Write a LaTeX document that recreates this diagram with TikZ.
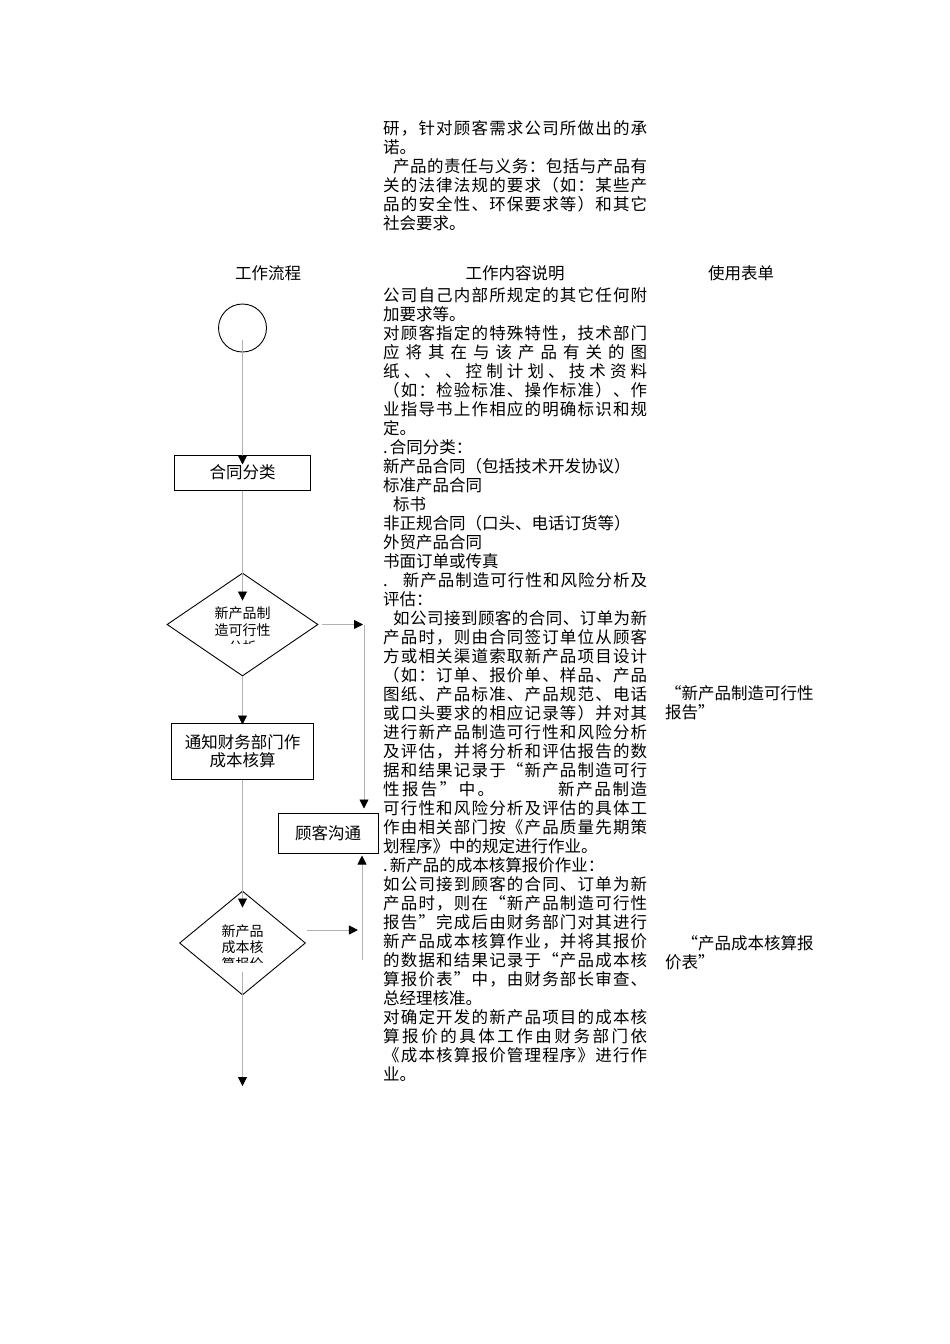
\documentclass[tikz,border=0pt]{standalone}
\usepackage{fontspec}
\setmainfont{Noto Sans CJK SC}
\usetikzlibrary{shapes.geometric,arrows.meta,calc}
\definecolor{lgray}{RGB}{178,178,178}
\newcommand\fs{\fontsize{16.5pt}{19pt}\selectfont}
\newcommand\fsd{\fontsize{14pt}{16.5pt}\selectfont}
\def\spr#1{\ifx#1\relax\else#1\hfil\expandafter\spr\fi}
\newcommand\jl[2][]{\hbox to 264pt{#1\spr#2\relax\unskip}}
\newcommand\lqm{\makebox[16.5pt][r]{“}}
\newcommand\rqm{\makebox[16.5pt][l]{”}}
\tikzset{
  flow/.style={draw=lgray, line width=0.8pt, -{Triangle[width=9pt,length=9pt,color=black]}},
  box/.style={draw=black, line width=1pt, fill=white, inner sep=0pt, font=\fs},
  dia/.style={diamond, draw=black, line width=0.9pt, fill=white, inner sep=0pt},
  txt/.style={anchor=west, inner sep=0pt, font=\fs, text height=14.5pt, text depth=2pt},
  hdr/.style={anchor=center, inner sep=0pt, font=\fs, text height=14.5pt, text depth=2pt},
  dtx/.style={anchor=center, inner sep=0pt, font=\fsd, text height=12.3pt, text depth=1.7pt},
}
\begin{document}
\begin{tikzpicture}[x=1pt,y=-1pt]
\useasboundingbox (0,0) rectangle (950,1344);
\fill[white] (0,0) rectangle (950,1344);

% ---------- flowchart shapes ----------
\node[circle,draw=black,line width=0.9pt,minimum size=48pt,inner sep=0pt] (c0) at (242.5,328) {};
\node[box,minimum width=136pt,minimum height=35pt] (b1) at (242.5,472.5) {合同分类};
\node[dia,minimum width=151pt,minimum height=103pt] (d1) at (242.5,624.5) {};
\node[box,minimum width=142pt,minimum height=56pt,align=center,font=\fontsize{16.5pt}{18pt}\selectfont] (b2) at (242.5,751) {通知财务部门作\\成本核算};
\node[box,minimum width=100pt,minimum height=40pt] (b3) at (328,833) {顾客沟通};
\node[dia,minimum width=126pt,minimum height=104pt] (d2) at (242.5,943) {};

% clipped diamond texts
\begin{scope}
\clip (195,598) rectangle (290,643);
\node[dtx] (d1a) at (242.5,613) {新产品制};
\node[dtx] (d1b) at (242.5,630) {造可行性};
\node[dtx] (d1c) at (242.5,647) {分析};
\end{scope}
\begin{scope}
\clip (200,915) rectangle (285,962);
\node[dtx] (d2a) at (242.5,931) {新产品};
\node[dtx] (d2b) at (242.5,947.5) {成本核};
\node[dtx] (d2c) at (242.5,964) {算报价};
\end{scope}

% ---------- connectors ----------
\coordinate (v1) at (364,624.5);
\coordinate (v2) at (362,960);
\coordinate (endp) at (242.5,1086);
\draw[flow] ($(c0.center)+(0,12)$) -- ($(b1.north)+(0,10)$);
\draw[flow] (b1.south) -- ($(d1.north)+(0,28)$);
\draw[flow] (d1.south) -- ($(b2.north)+(0,2)$);
\draw[flow] (b2.south) -- ($(d2.north)+(0,17)$);
\draw[flow] ($(d2.center)+(0,29)$) -- (endp);
\draw[flow] ($(d1.east)+(4,0)$) -- ($(v1)+(-1,0)$);
\draw[flow] (v1) -- ($(v1 |- b3.north)+(0,-4)$);
\draw[flow] ($(d2.east)+(1,-13)$) -- ($(d2.east)+(52,-13)$);
\draw[flow] (v2) -- ($(v2 |- b3.south)+(0,2)$);

% ---------- top block ----------
\node[txt] (p1) at (383,128) {\jl{研，针对顾客需求公司所做出的承}};
\node[txt] (p2) at (383,147) {诺。};
\node[txt] (p3) at (383,166) {\jl[\hspace*{10pt}]{产品的责任与义务：包括与产品有}};
\node[txt] (p4) at (383,185) {\jl{关的法律法规的要求（如：某些产}};
\node[txt] (p5) at (383,204) {\jl{品的安全性、环保要求等）和其它}};
\node[txt] (p6) at (383,223) {社会要求。};

% ---------- headers ----------
\node[hdr] (h1) at (268,273) {工作流程};
\node[hdr] (h2) at (515,273) {工作内容说明};
\node[hdr] (h3) at (741,273) {使用表单};

% ---------- main column ----------
\node[txt] (m1) at (383,295) {\jl{公司自己内部所规定的其它任何附}};
\node[txt] (m2) at (383,314) {加要求等。};
\node[txt] (m3) at (383,333) {\jl{对顾客指定的特殊特性，技术部门}};
\node[txt] (m4) at (383,352) {\jl{应将其在与该产品有关的图}};
\node[txt] (m5) at (383,371) {\jl{纸、、、控制计划、技术资料}};
\node[txt] (m6) at (383,390) {\jl{（如：检验标准、操作标准）、作}};
\node[txt] (m7) at (383,409) {\jl{业指导书上作相应的明确标识和规}};
\node[txt] (m8) at (383,428) {定。};
\node[txt] (m9) at (383,447) {.\hspace*{2pt}合同分类：};
\node[txt] (m10) at (383,466) {新产品合同（包括技术开发协议）};
\node[txt] (m11) at (383,485) {标准产品合同};
\node[txt] (m12) at (383,504) {\hspace*{10pt}标书};
\node[txt] (m13) at (383,523) {非正规合同（口头、电话订货等）};
\node[txt] (m14) at (383,542) {外贸产品合同};
\node[txt] (m15) at (383,561) {书面订单或传真};
\node[txt] (m16) at (383,580) {\jl[.\hspace*{15pt}]{新产品制造可行性和风险分析及}};
\node[txt] (m17) at (383,599) {评估：};
\node[txt] (m18) at (383,618) {\jl[\hspace*{10pt}]{如公司接到顾客的合同、订单为新}};
\node[txt] (m19) at (383,637) {\jl{产品时，则由合同签订单位从顾客}};
\node[txt] (m20) at (383,656) {\jl{方或相关渠道索取新产品项目设计}};
\node[txt] (m21) at (383,675) {\jl{（如：订单、报价单、样品、产品}};
\node[txt] (m22) at (383,694) {\jl{图纸、产品标准、产品规范、电话}};
\node[txt] (m23) at (383,713) {\jl{或口头要求的相应记录等）并对其}};
\node[txt] (m24) at (383,732) {\jl{进行新产品制造可行性和风险分析}};
\node[txt] (m25) at (383,751) {\jl{及评估，并将分析和评估报告的数}};
\node[txt] (m26) at (383,770) {\jl{据和结果记录于\lqm 新产品制造可行}};
\node[txt] (m27) at (383,789) {\hbox to 264pt{\hbox to 111pt{\spr 性报告\rqm 中。\relax\unskip}\hfill\hbox to 89pt{\spr 新产品制造\relax\unskip}}};
\node[txt] (m28) at (383,808) {\jl{可行性和风险分析及评估的具体工}};
\node[txt] (m29) at (383,827) {\jl{作由相关部门按《产品质量先期策}};
\node[txt] (m30) at (383,846) {划程序》中的规定进行作业。};
\node[txt] (m31) at (383,865) {.\hspace*{2pt}新产品的成本核算报价作业：};
\node[txt] (m32) at (383,884) {\jl{如公司接到顾客的合同、订单为新}};
\node[txt] (m33) at (383,903) {\jl{产品时，则在\lqm 新产品制造可行性}};
\node[txt] (m34) at (383,922) {\jl{报告\rqm 完成后由财务部门对其进行}};
\node[txt] (m35) at (383,941) {\jl{新产品成本核算作业，并将其报价}};
\node[txt] (m36) at (383,960) {\jl{的数据和结果记录于\lqm 产品成本核}};
\node[txt] (m37) at (383,979) {\jl{算报价表\rqm 中，由财务部长审查、}};
\node[txt] (m38) at (383,998) {总经理核准。};
\node[txt] (m39) at (383,1017) {\jl{对确定开发的新产品项目的成本核}};
\node[txt] (m40) at (383,1036) {\jl{算报价的具体工作由财务部门依}};
\node[txt] (m41) at (383,1055) {\jl{《成本核算报价管理程序》进行作}};
\node[txt] (m42) at (383,1074) {业。};

% ---------- forms column ----------
\node[txt] (f1) at (665,693) {\lqm 新产品制造可行性};
\node[txt] (f2) at (665,712) {报告\rqm};
\node[txt] (f3) at (665,943) {\hspace*{16.5pt}\lqm 产品成本核算报};
\node[txt] (f4) at (665,962) {价表\rqm};
\end{tikzpicture}
\end{document}
